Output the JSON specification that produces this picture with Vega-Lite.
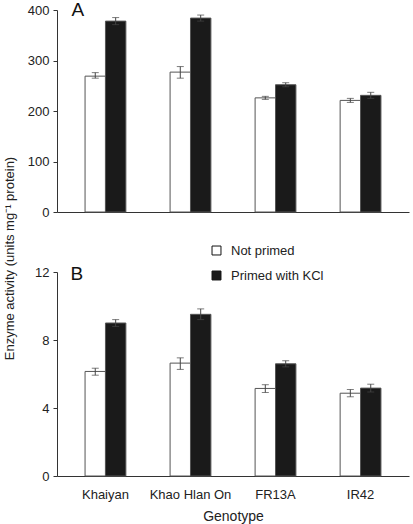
{
  "$schema": "https://vega.github.io/schema/vega-lite/v6.json",
  "padding": {"left": 2, "top": 1, "right": 4, "bottom": 2},
  "background": "white",
  "bounds": "flush",
  "spacing": 60,
  "config": {
    "font": "Liberation Sans",
    "view": {"stroke": null},
    "axis": {"labelFont": "Liberation Sans", "titleFont": "Liberation Sans", "labelFontSize": 13, "labelColor": "#222", "domainColor": "#333", "tickColor": "#333", "grid": false, "titleFontWeight": "normal", "titleColor": "#222"},
    "legend": {"labelFont": "Liberation Sans"}
  },
  "datasets": {
    "d": [
      {"panel": "A", "genotype": "Khaiyan", "treatment": "Not primed", "value": 269, "lo": 265, "hi": 276},
      {"panel": "A", "genotype": "Khaiyan", "treatment": "Primed with KCl", "value": 378, "lo": 371, "hi": 385},
      {"panel": "A", "genotype": "Khao Hlan On", "treatment": "Not primed", "value": 277, "lo": 265, "hi": 288},
      {"panel": "A", "genotype": "Khao Hlan On", "treatment": "Primed with KCl", "value": 384, "lo": 378, "hi": 390},
      {"panel": "A", "genotype": "FR13A", "treatment": "Not primed", "value": 226, "lo": 223, "hi": 229},
      {"panel": "A", "genotype": "FR13A", "treatment": "Primed with KCl", "value": 252, "lo": 248, "hi": 256},
      {"panel": "A", "genotype": "IR42", "treatment": "Not primed", "value": 221, "lo": 217, "hi": 225},
      {"panel": "A", "genotype": "IR42", "treatment": "Primed with KCl", "value": 231, "lo": 225, "hi": 237},
      {"panel": "B", "genotype": "Khaiyan", "treatment": "Not primed", "value": 6.15, "lo": 5.93, "hi": 6.34},
      {"panel": "B", "genotype": "Khaiyan", "treatment": "Primed with KCl", "value": 9.0, "lo": 8.8, "hi": 9.2},
      {"panel": "B", "genotype": "Khao Hlan On", "treatment": "Not primed", "value": 6.64, "lo": 6.27, "hi": 6.95},
      {"panel": "B", "genotype": "Khao Hlan On", "treatment": "Primed with KCl", "value": 9.51, "lo": 9.2, "hi": 9.83},
      {"panel": "B", "genotype": "FR13A", "treatment": "Not primed", "value": 5.15, "lo": 4.91, "hi": 5.37},
      {"panel": "B", "genotype": "FR13A", "treatment": "Primed with KCl", "value": 6.6, "lo": 6.42, "hi": 6.78},
      {"panel": "B", "genotype": "IR42", "treatment": "Not primed", "value": 4.87, "lo": 4.66, "hi": 5.09},
      {"panel": "B", "genotype": "IR42", "treatment": "Primed with KCl", "value": 5.17, "lo": 4.94, "hi": 5.4}
    ],
    "labA": [{"label": "A", "genotype": "Khaiyan", "pos": 400}],
    "labB": [{"label": "B", "genotype": "Khaiyan", "pos": 12}]
  },
  "vconcat": [
    {
      "width": 352,
      "height": 202,
      "layer": [
        {
          "data": {"name": "d"},
          "transform": [{"filter": "datum.panel === 'A'"}],
          "mark": {"type": "bar", "stroke": "#555", "strokeWidth": 1},
          "encoding": {
            "x": {"field": "genotype", "type": "nominal", "sort": ["Khaiyan", "Khao Hlan On", "FR13A", "IR42"], "scale": {"paddingInner": 0.52, "paddingOuter": 0.33}, "axis": {"title": null, "labels": false, "ticks": false}},
            "xOffset": {"field": "treatment", "type": "nominal", "sort": ["Not primed", "Primed with KCl"], "scale": {"paddingInner": 0, "paddingOuter": 0}},
            "y": {"field": "value", "type": "quantitative", "scale": {"domain": [0, 400], "nice": false}, "axis": {"values": [0, 100, 200, 300, 400], "title": null, "tickSize": 4, "labelPadding": 4}},
            "fill": {"field": "treatment", "type": "nominal", "sort": ["Not primed", "Primed with KCl"], "scale": {"range": ["white", "#1a1a1a"]}, "legend": null}
          }
        },
        {
          "data": {"name": "d"},
          "transform": [{"filter": "datum.panel === 'A'"}],
          "mark": {"type": "rule", "color": "#444", "strokeWidth": 1},
          "encoding": {
            "x": {"field": "genotype", "type": "nominal", "sort": ["Khaiyan", "Khao Hlan On", "FR13A", "IR42"]},
            "xOffset": {"field": "treatment", "type": "nominal", "sort": ["Not primed", "Primed with KCl"]},
            "y": {"field": "lo", "type": "quantitative"}, "y2": {"field": "hi"}}
        },
        {
          "data": {"name": "d"},
          "transform": [{"filter": "datum.panel === 'A'"}],
          "mark": {"type": "tick", "color": "#444", "orient": "horizontal", "size": 7, "thickness": 1},
          "encoding": {
            "x": {"field": "genotype", "type": "nominal", "sort": ["Khaiyan", "Khao Hlan On", "FR13A", "IR42"]},
            "xOffset": {"field": "treatment", "type": "nominal", "sort": ["Not primed", "Primed with KCl"]},
            "y": {"field": "lo", "type": "quantitative"}}
        },
        {
          "data": {"name": "d"},
          "transform": [{"filter": "datum.panel === 'A'"}],
          "mark": {"type": "tick", "color": "#444", "orient": "horizontal", "size": 7, "thickness": 1},
          "encoding": {
            "x": {"field": "genotype", "type": "nominal", "sort": ["Khaiyan", "Khao Hlan On", "FR13A", "IR42"]},
            "xOffset": {"field": "treatment", "type": "nominal", "sort": ["Not primed", "Primed with KCl"]},
            "y": {"field": "hi", "type": "quantitative"}}
        },
        {
          "data": {"name": "labA"},
          "mark": {"type": "text", "fontSize": 19, "align": "left", "baseline": "alphabetic", "dx": -34, "dy": 6, "color": "#111", "font": "Liberation Sans"},
          "encoding": {
            "x": {"field": "genotype", "type": "nominal", "sort": ["Khaiyan", "Khao Hlan On", "FR13A", "IR42"]},
            "y": {"field": "pos", "type": "quantitative"},
            "text": {"field": "label"}
          }
        }
      ]
    },
    {
      "width": 352,
      "height": 204,
      "layer": [
        {
          "data": {"name": "d"},
          "transform": [{"filter": "datum.panel === 'B'"}],
          "mark": {"type": "bar", "stroke": "#555", "strokeWidth": 1},
          "encoding": {
            "x": {"field": "genotype", "type": "nominal", "sort": ["Khaiyan", "Khao Hlan On", "FR13A", "IR42"], "scale": {"paddingInner": 0.52, "paddingOuter": 0.33}, "axis": {"title": "Genotype", "titleFontSize": 14, "titlePadding": 8, "ticks": false, "labelAngle": 0, "labelPadding": 12, "labelFontSize": 13}},
            "xOffset": {"field": "treatment", "type": "nominal", "sort": ["Not primed", "Primed with KCl"], "scale": {"paddingInner": 0, "paddingOuter": 0}},
            "y": {"field": "value", "type": "quantitative", "scale": {"domain": [0, 12], "nice": false}, "axis": {"values": [0, 4, 8, 12], "title": "Enzyme activity (units mg⁻¹ protein)", "titleFontSize": 13, "titleX": -41, "titleY": -14, "tickSize": 4, "labelPadding": 4}},
            "fill": {"field": "treatment", "type": "nominal", "sort": ["Not primed", "Primed with KCl"], "scale": {"range": ["white", "#1a1a1a"]}, "legend": {"title": null, "orient": "none", "legendX": 153, "legendY": -28, "symbolType": "square", "symbolSize": 80, "symbolStrokeColor": "#111", "symbolStrokeWidth": 1, "labelFontSize": 13, "labelColor": "#222", "rowPadding": 11, "labelOffset": 8}}
          }
        },
        {
          "data": {"name": "d"},
          "transform": [{"filter": "datum.panel === 'B'"}],
          "mark": {"type": "rule", "color": "#444", "strokeWidth": 1},
          "encoding": {
            "x": {"field": "genotype", "type": "nominal", "sort": ["Khaiyan", "Khao Hlan On", "FR13A", "IR42"]},
            "xOffset": {"field": "treatment", "type": "nominal", "sort": ["Not primed", "Primed with KCl"]},
            "y": {"field": "lo", "type": "quantitative"}, "y2": {"field": "hi"}}
        },
        {
          "data": {"name": "d"},
          "transform": [{"filter": "datum.panel === 'B'"}],
          "mark": {"type": "tick", "color": "#444", "orient": "horizontal", "size": 7, "thickness": 1},
          "encoding": {
            "x": {"field": "genotype", "type": "nominal", "sort": ["Khaiyan", "Khao Hlan On", "FR13A", "IR42"]},
            "xOffset": {"field": "treatment", "type": "nominal", "sort": ["Not primed", "Primed with KCl"]},
            "y": {"field": "lo", "type": "quantitative"}}
        },
        {
          "data": {"name": "d"},
          "transform": [{"filter": "datum.panel === 'B'"}],
          "mark": {"type": "tick", "color": "#444", "orient": "horizontal", "size": 7, "thickness": 1},
          "encoding": {
            "x": {"field": "genotype", "type": "nominal", "sort": ["Khaiyan", "Khao Hlan On", "FR13A", "IR42"]},
            "xOffset": {"field": "treatment", "type": "nominal", "sort": ["Not primed", "Primed with KCl"]},
            "y": {"field": "hi", "type": "quantitative"}}
        },
        {
          "data": {"name": "labB"},
          "mark": {"type": "text", "fontSize": 19, "align": "left", "baseline": "alphabetic", "dx": -35, "dy": 8, "color": "#111", "font": "Liberation Sans"},
          "encoding": {
            "x": {"field": "genotype", "type": "nominal", "sort": ["Khaiyan", "Khao Hlan On", "FR13A", "IR42"]},
            "y": {"field": "pos", "type": "quantitative"},
            "text": {"field": "label"}
          }
        }
      ]
    }
  ],
  "resolve": {"legend": {"fill": "independent"}}
}
